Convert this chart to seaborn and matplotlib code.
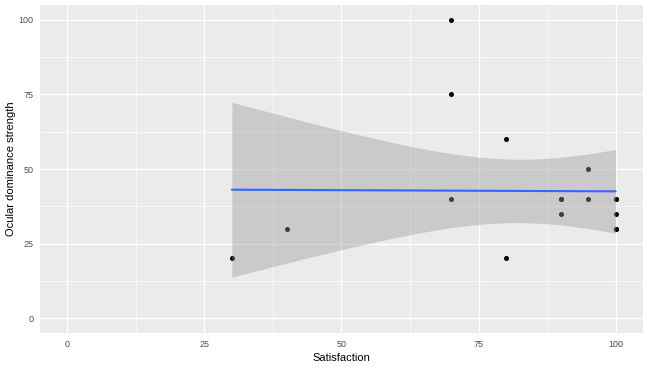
import matplotlib
matplotlib.use("Agg")
import matplotlib.pyplot as plt
import seaborn as sns
import pandas as pd
import numpy as np
from matplotlib.ticker import MultipleLocator

# data (some points overlap)
satisfaction = [30, 40, 70, 70, 70, 80, 80, 90, 90, 90, 95, 95, 100, 100, 100, 100, 100]
ocular = [20, 30, 100, 75, 40, 60, 20, 40, 35, 40, 50, 40, 40, 40, 35, 30, 30]
x_ticks = [0, 25, 50, 75, 100]
y_ticks = [0, 25, 50, 75, 100]

df = pd.DataFrame({'Satisfaction': satisfaction, 'Ocular dominance strength': ocular})

sns.set_theme(style="darkgrid", rc={
    'axes.facecolor': '#EBEBEB',
    'grid.color': 'white',
    'axes.edgecolor': 'white',
})
plt.rcParams['font.family'] = ['Liberation Sans', 'DejaVu Sans']

fig = plt.figure(figsize=(6.48, 3.68), dpi=100)
ax = fig.add_axes([0.0617, 0.0951, 0.9306, 0.8913])

sns.scatterplot(data=df, x='Satisfaction', y='Ocular dominance strength', ax=ax,
                color='black', s=13, linewidth=0, zorder=3)

# linear fit with 95% confidence band (like geom_smooth(method="lm"))
x = np.array(satisfaction, float)
y = np.array(ocular, float)
n = len(x)
slope, intercept = np.polyfit(x, y, 1)
resid = y - (intercept + slope * x)
s = np.sqrt((resid ** 2).sum() / (n - 2))
t_crit = 2.131  # t(0.975, df=15)
xs = np.linspace(x.min(), x.max(), 80)
fit = intercept + slope * xs
se = s * np.sqrt(1 / n + (xs - x.mean()) ** 2 / ((x - x.mean()) ** 2).sum())
ax.fill_between(xs, fit - t_crit * se, fit + t_crit * se, color='#999999', alpha=0.4,
                linewidth=0, zorder=4)
sns.lineplot(x=xs, y=fit, ax=ax, color='#3366FF', linewidth=1.5, zorder=5)

ax.set_xlim(-5, 105)
ax.set_ylim(-5, 105)
ax.set_xticks(x_ticks)
ax.set_yticks(y_ticks)
ax.xaxis.set_minor_locator(MultipleLocator(12.5))
ax.yaxis.set_minor_locator(MultipleLocator(12.5))
ax.grid(which='major', color='white', linewidth=1.0)
ax.grid(which='minor', color='white', linewidth=0.5)
ax.tick_params(which='major', length=2.7, width=0.6, color='#333333',
               labelsize=6.5, labelcolor='#4D4D4D', pad=2)
ax.tick_params(which='minor', length=0)
for sp in ax.spines.values():
    sp.set_visible(False)
ax.set_xlabel('Satisfaction', fontsize=8, color='black', labelpad=3)
ax.set_ylabel('Ocular dominance strength', fontsize=8, color='black', labelpad=2)

fig.savefig('out.png', dpi=100)
